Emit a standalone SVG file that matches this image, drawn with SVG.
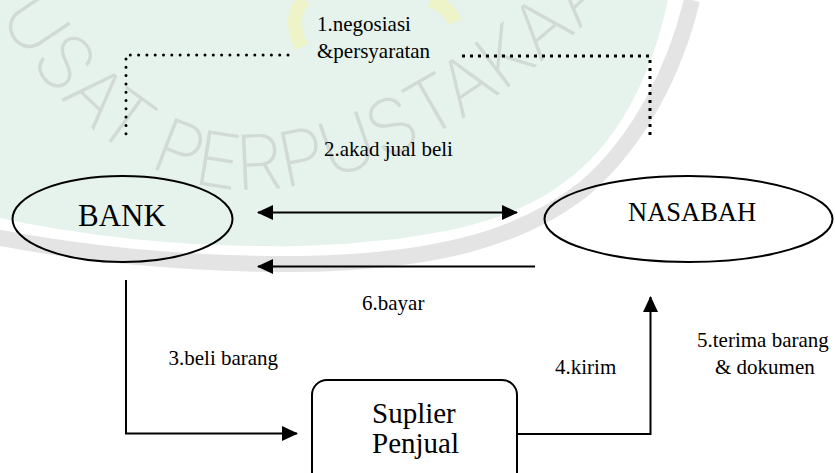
<svg xmlns="http://www.w3.org/2000/svg" width="835" height="473" viewBox="0 0 835 473">
<defs>
<style>
.node{fill:none;stroke:#000;stroke-width:2}
.ln{fill:none;stroke:#000;stroke-width:2}
.dotr{fill:none;stroke:#000;stroke-width:3;stroke-linecap:round;stroke-dasharray:0 8.3}
.dots{fill:none;stroke:#000;stroke-width:3;stroke-dasharray:3 5}
</style>
<marker id="ah" viewBox="0 0 16 16" refX="15" refY="8" markerWidth="16" markerHeight="16" markerUnits="userSpaceOnUse" orient="auto-start-reverse">
<path d="M0,0.5 L16,8 L0,15.5 Z" fill="#000"/>
</marker>
<path id="wmpath" d="M -30,-40 C 20,70 110,174 220,188 C 330,200 470,140 620,-10 L 700,-110"/>
</defs>
<rect width="835" height="473" fill="#fff"/>
<g id="watermark">
<path d="M0,0 L668,0 C 655,60 630,120 590,160 C 540,210 470,240 300,246 C 180,248 80,235 0,218 Z" fill="#e6f3ec"/>
<path d="M692,0 C 675,70 640,140 585,188 C 520,240 430,262 300,264 C 180,265 70,252 -10,236" fill="none" stroke="#e4e4e4" stroke-width="16"/>
<path d="M 302,47 C 290,25 295,8 305,0 M 430,0 C 445,5 452,15 455,22" fill="none" stroke="#eef4c8" stroke-width="14"/>
<text font-family="Inter, 'Open Sans', sans-serif" font-weight="200" font-size="76" fill="#d2dad6"><textPath href="#wmpath" startOffset="62">USAT PERPUSTAKAAN</textPath></text>
</g>
<g id="connectors">
<path class="dotr" d="M288,55 L126,55 L126,139"/>
<path class="dots" d="M462,56 L650,56 L650,138"/>
<line class="ln" x1="258" y1="212.5" x2="517" y2="212.5" marker-start="url(#ah)" marker-end="url(#ah)"/>
<line class="ln" x1="535" y1="266.5" x2="258" y2="266.5" marker-end="url(#ah)"/>
<path class="ln" d="M126,280 L126,433.5 L297,433.5" marker-end="url(#ah)"/>
<path class="ln" d="M517,434 L650.5,434 L650.5,297" marker-end="url(#ah)"/>
</g>
<g font-family="'Liberation Serif', 'Times New Roman', serif" fill="#000">
<g id="bank">
<ellipse class="node" cx="122.5" cy="219" rx="110" ry="43"/>
<text x="78" y="226" font-size="31">BANK</text>
</g>
<g id="nasabah">
<ellipse class="node" cx="688.5" cy="219" rx="144" ry="43"/>
<text x="628" y="221" font-size="26.5">NASABAH</text>
</g>
<g id="suplier">
<rect class="node" x="312" y="380" width="205" height="110" rx="15" ry="15"/>
<text x="372" y="423" font-size="29">Suplier</text>
<text x="372" y="453" font-size="29">Penjual</text>
</g>
<g id="labels" font-size="21">
<text x="317" y="31">1.negosiasi</text>
<text x="317" y="58">&amp;persyaratan</text>
<text x="324" y="156">2.akad jual beli</text>
<text x="362" y="310">6.bayar</text>
<text x="168.5" y="365">3.beli barang</text>
<text x="555" y="374">4.kirim</text>
<text x="697" y="347">5.terima barang</text>
<text x="715" y="374">&amp; dokumen</text>
</g>
</g>
</svg>
